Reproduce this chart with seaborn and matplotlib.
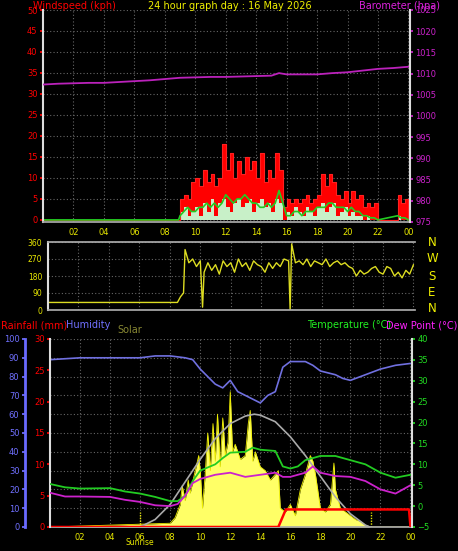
import numpy as np
import pandas as pd
import matplotlib
matplotlib.use("Agg")
import matplotlib.pyplot as plt
import seaborn as sns

sns.set_theme(style="dark")
plt.rcParams['font.family'] = ['DejaVu Sans']

# ---------------- data ----------------
hour_ticks = [2, 4, 6, 8, 10, 12, 14, 16, 18, 20, 22, 24]
hour_labels = ["02", "04", "06", "08", "10", "12", "14", "16", "18", "20", "22", "00"]

gust_t = [0, 8.9, 9.0, 9.25, 9.5, 9.75, 10, 10.25, 10.5, 10.75, 11, 11.25, 11.5, 11.75, 12, 12.25,
          12.5, 12.75, 13, 13.25, 13.5, 13.75, 14, 14.25, 14.5, 14.75, 15, 15.25, 15.5, 15.75,
          16, 16.25, 16.5, 16.75, 17, 17.25, 17.5, 17.75, 18, 18.25, 18.5, 18.75, 19, 19.25,
          19.5, 19.75, 20, 20.25, 20.5, 20.75, 21, 21.25, 21.5, 21.75, 22, 23.3, 23.5, 23.75, 24]
gust_v = [0, 0, 5, 6, 5, 9, 10, 8, 12, 9, 11, 8, 10, 18, 12, 16,
          10, 14, 11, 15, 12, 14, 10, 16, 9, 12, 10, 16, 12, 3,
          5, 4, 5, 4, 5, 6, 4, 5, 6, 11, 8, 11, 9, 6,
          5, 7, 4, 7, 5, 6, 3, 4, 3, 4, 0, 6, 4, 5, 0]
avg_v = [0, 0, 2, 3, 1, 2, 3, 1, 4, 2, 5, 1, 4, 5, 3, 2,
         4, 5, 3, 4, 5, 2, 4, 5, 3, 4, 2, 5, 4, 0,
         2, 1, 3, 2, 1, 3, 2, 1, 3, 4, 2, 3, 4, 1,
         2, 3, 1, 2, 1, 1, 0, 1, 0, 0, 0, 1, 0, 0, 0]
avgline_v = [0, 0, 1, 2, 3, 2, 2, 3, 3, 4, 3, 4, 3, 4, 6, 5,
             4, 5, 5, 6, 5, 4, 4, 3, 3, 4, 3, 4, 7, 4,
             1, 1, 2, 2, 1, 2, 2, 2, 3, 3, 3, 4, 4, 3,
             3, 3, 2, 3, 2, 2, 1, 1, 0.5, 0.5, 0, 1, 0.5, 0.5, 0]

baro_t = [0, 1, 2, 3, 4, 5, 6, 7, 8, 9, 10, 11, 12, 13, 14, 15, 15.5, 16, 17, 18, 19, 20, 21, 22, 23, 24]
baro_v = [1007.4, 1007.6, 1007.7, 1007.8, 1007.8, 1008.0, 1008.2, 1008.4, 1008.7, 1009.0, 1009.1, 1009.2,
          1009.2, 1009.3, 1009.4, 1009.5, 1010.1, 1009.8, 1009.8, 1009.8, 1010.1, 1010.3, 1010.7, 1011.1, 1011.3, 1011.6]

dir_t = [0, 8.5, 8.7, 8.9, 9.0, 9.25, 9.5, 9.75, 10, 10.15, 10.25, 10.5, 10.75, 11, 11.25, 11.5, 11.75,
         12, 12.25, 12.5, 12.75, 13, 13.25, 13.5, 13.75, 14, 14.25, 14.5, 14.75, 15, 15.25, 15.5,
         15.8, 15.9, 16.0, 16.25, 16.5, 16.75, 17, 17.25, 17.5, 17.75, 18, 18.25, 18.5, 18.75, 19,
         19.25, 19.5, 19.75, 20, 20.25, 20.5, 20.75, 21, 21.25, 21.5, 21.75, 22, 22.25, 22.5,
         22.75, 23, 23.25, 23.5, 23.75, 24]
dir_v = [40, 40, 70, 90, 320, 250, 270, 230, 260, 15, 200, 250, 210, 240, 190, 260, 230,
         250, 200, 270, 230, 250, 210, 260, 240, 230, 200, 250, 220, 250, 230, 270,
         260, 0, 350, 250, 260, 240, 270, 230, 260, 250, 240, 270, 230, 250, 260,
         240, 250, 230, 220, 180, 210, 190, 200, 220, 230, 200, 190, 230, 220,
         180, 200, 170, 210, 190, 240]

hum_t = [0, 1, 2, 4, 6, 7, 8, 9, 9.5, 10, 10.5, 11, 11.5, 12, 12.5, 13, 13.5, 14, 14.5, 15, 15.5,
         16, 17, 17.5, 18, 19, 19.5, 20, 21, 22, 23, 24]
hum_v = [89, 89.5, 90, 90, 90, 91, 91, 90, 89, 84, 80, 76, 74, 78, 72, 70, 68, 66, 70, 72, 85,
         88, 88, 86, 83, 81, 79, 78, 81, 84, 86, 87]
temp_t = [0, 1, 2, 4, 5, 6, 7, 8, 8.5, 9, 9.5, 10, 11, 11.5, 12, 13, 13.5, 14, 15, 15.5, 16, 16.5,
          17, 18, 19, 20, 21, 22, 23, 24]
temp_v = [5.3, 4.5, 4.2, 4.3, 3.5, 3.0, 2.2, 1.2, 1.2, 2.5, 6, 8.5, 10, 11.5, 12.8, 13, 14, 13.5,
          13.2, 9.5, 9.0, 9.5, 11, 12, 12, 11, 10, 8, 6.8, 7.5]
dew_t = [0, 1, 2, 4, 5, 6, 7, 8, 8.5, 9, 9.5, 10, 11, 12, 13, 14, 15, 15.5, 16, 17, 17.5, 18,
         19, 20, 21, 22, 23, 24]
dew_v = [3.2, 2.3, 2.3, 2.2, 1.5, 1.0, 0.2, 0.0, 0.5, 2.5, 5.5, 6.5, 7.5, 8.0, 7.0, 7.5, 8.0, 7.0,
         7.0, 8.0, 9.5, 8.0, 7.2, 7.0, 6.0, 4.0, 3.0, 5.0]
rain_t = [0, 15.2, 15.7, 23.9, 24.0]
rain_v = [0, 0, 2.8, 2.8, 0]
solar_t = [0, 8.0, 8.33, 8.67, 8.8, 9, 9.2, 9.33, 9.67, 9.9, 10, 10.15, 10.33, 10.5, 10.67, 10.85, 11,
           11.15, 11.33, 11.5, 11.67, 11.85, 12, 12.15, 12.33, 12.67, 13, 13.2, 13.33, 13.5, 13.67,
           14, 14.33, 14.67, 15, 15.2, 15.33, 15.67, 16, 16.33, 16.67, 17, 17.33, 17.5, 17.67, 18,
           18.33, 18.67, 18.9, 19, 19.33, 19.67, 20, 20.33, 20.67, 21, 21.33, 24]
solar_v = [0, 2, 5, 12, 22, 14, 25, 18, 30, 38, 30, 10, 28, 50, 30, 55, 35, 60, 32, 58, 38, 45,
           72, 40, 44, 36, 38, 55, 62, 35, 40, 32, 30, 25, 28, 30, 10, 8, 12, 6, 20, 28, 38, 35,
           28, 10, 8, 12, 34, 20, 10, 8, 6, 4, 3, 1, 0, 0]
clear_t = [6, 7, 8, 9, 10, 11, 12, 13, 13.6, 14, 15, 16, 17, 18, 19, 20, 21, 21.3]
clear_v = [0, 4, 12, 24, 36, 47, 55, 59, 60, 59.5, 56, 48, 38, 27, 16, 7, 1, 0]

# ---------------- drawing ----------------
W, H = 458, 551
fig = plt.figure(figsize=(W / 100, H / 100), dpi=100, facecolor="black")

def style(ax, xlim=(0, 24.1)):
    ax.set_facecolor("black")
    ax.set_xlim(*xlim)
    ax.grid(True, color="#666666", linestyle=(0, (1, 2)), linewidth=0.8)
    for s in ax.spines.values():
        s.set_visible(False)
    ax.set_xticks(hour_ticks)
    ax.tick_params(axis="x", colors="#aaaaaa", labelcolor="#e8e800", labelsize=6, length=2, pad=2)

def rect(l, t, r, b):
    return [l / W, (H - b) / H, (r - l) / W, (b - t) / H]

# Panel 1
ax1 = fig.add_axes(rect(43, 10, 410, 222))
style(ax1)
ax1.set_xticklabels(hour_labels)
ax1.set_ylim(-0.5, 50)
ax1.set_yticks(range(0, 51, 5))
ax1.tick_params(axis="y", colors="red", labelsize=6, length=2, pad=2)
ax1.spines["left"].set_visible(True); ax1.spines["left"].set_color("#dddddd"); ax1.spines["left"].set_linewidth(1.5)
ax1.spines["bottom"].set_visible(True); ax1.spines["bottom"].set_color("#aaaaaa")
ax1.fill_between(gust_t, gust_v, step="post", color="red", linewidth=0)
sns.lineplot(x=gust_t, y=gust_v, drawstyle="steps-post", color="#ff2020", linewidth=0.8, ax=ax1)
ax1.fill_between(gust_t, avg_v, step="post", color="#c8f0c8", linewidth=0)
sns.lineplot(x=gust_t, y=avgline_v, color="#22cc22", linewidth=1.2, ax=ax1)
ax1.set_xlabel(""); ax1.set_ylabel("")
ax1b = ax1.twinx()
ax1b.set_ylim(974.95, 1025)
ax1b.set_yticks(range(975, 1026, 5))
ax1b.tick_params(axis="y", colors="#cc22cc", labelsize=6, length=2, pad=2)
for s in ax1b.spines.values():
    s.set_visible(False)
ax1b.spines["right"].set_visible(True); ax1b.spines["right"].set_color("#dddddd"); ax1b.spines["right"].set_linewidth(1.5)
sns.lineplot(x=baro_t, y=baro_v, color="#bb22bb", linewidth=1.3, ax=ax1b)
ax1b.set_ylabel("")

# Panel 2
ax2 = fig.add_axes(rect(48, 242, 415, 310))
style(ax2)
ax2.set_xticklabels([])
ax2.set_ylim(0, 360)
ax2.set_yticks([0, 90, 180, 270, 360])
ax2.tick_params(axis="y", colors="#e8e800", labelsize=5.5, length=2, pad=2)
ax2.spines["left"].set_visible(True); ax2.spines["left"].set_color("#dddddd"); ax2.spines["left"].set_linewidth(1.5)
ax2.spines["bottom"].set_visible(True); ax2.spines["bottom"].set_color("#aaaaaa")
ax2.spines["top"].set_visible(True); ax2.spines["top"].set_color("#aaaaaa")
sns.lineplot(x=dir_t, y=dir_v, color="#dddd22", linewidth=1.0, ax=ax2)
ax2.set_xlabel(""); ax2.set_ylabel("")
for lab, yy in zip(["N", "W", "S", "E", "N"], [242, 259, 276, 293, 308]):
    fig.text(432 / W, 1 - yy / H, lab, color="#f0f000", fontsize=8.5, ha="center", va="center")

# Panel 3
ax3 = fig.add_axes(rect(50, 339, 412, 527))
style(ax3)
ax3.set_xticklabels(hour_labels)
ax3.set_ylim(0, 100)
ax3.set_yticks(range(0, 101, 10))
ax3.tick_params(axis="y", colors="#7070ff", labelsize=6, length=2, pad=2)
ax3.spines["left"].set_visible(True); ax3.spines["left"].set_color("#6a6aff")
ax3.spines["left"].set_linewidth(2); ax3.spines["left"].set_position(("outward", 18))
ax3.spines["bottom"].set_visible(True); ax3.spines["bottom"].set_color("#aaaaaa")
ax3.fill_between(solar_t, solar_v, color="#ffff66", linewidth=0)
sns.lineplot(x=solar_t, y=solar_v, color="#eeee00", linewidth=0.6, ax=ax3)
sns.lineplot(x=clear_t, y=clear_v, color="#aaaaaa", linewidth=1.2, ax=ax3)
sns.lineplot(x=hum_t, y=hum_v, color="#7070e0", linewidth=1.2, ax=ax3)
for xv in (6.0, 21.4):
    ax3.axvline(xv, ymax=0.08, color="#e8e800", linestyle=(0, (1, 1)), linewidth=1)
ax3.set_xlabel(""); ax3.set_ylabel("")
ax3.text(6.0, -0.085, "Sunrise", transform=ax3.get_xaxis_transform(), color="#e8e800",
         fontsize=5.5, ha="center", va="center")

ax3r = ax3.twinx()
ax3r.set_ylim(0, 30)
ax3r.set_yticks(range(0, 31, 5))
ax3r.yaxis.set_ticks_position("left"); ax3r.yaxis.set_label_position("left")
ax3r.tick_params(axis="y", colors="red", labelsize=6, length=2, pad=2)
for s in ax3r.spines.values():
    s.set_visible(False)
ax3r.spines["left"].set_visible(True); ax3r.spines["left"].set_color("#dddddd"); ax3r.spines["left"].set_linewidth(1.5)
sns.lineplot(x=rain_t, y=rain_v, color="red", linewidth=1.8, ax=ax3r)
ax3r.set_ylabel("")

ax3t = ax3.twinx()
ax3t.set_ylim(-5, 40)
ax3t.set_yticks(range(-5, 41, 5))
ax3t.tick_params(axis="y", colors="#22dd22", labelsize=6, length=2, pad=2)
for s in ax3t.spines.values():
    s.set_visible(False)
ax3t.spines["right"].set_visible(True); ax3t.spines["right"].set_color("#dddddd"); ax3t.spines["right"].set_linewidth(1.5)
sns.lineplot(x=temp_t, y=temp_v, color="#22cc22", linewidth=1.3, ax=ax3t)
sns.lineplot(x=dew_t, y=dew_v, color="#cc22cc", linewidth=1.3, ax=ax3t)
ax3t.set_ylabel("")

# headers
def ftxt(x, y, s, c, ha="left", size=7):
    fig.text(x / W, 1 - y / H, s, color=c, fontsize=size, ha=ha, va="center")

ftxt(33, 6, "Windspeed (kph)", "red")
ftxt(230, 6, "24 hour graph day : 16 May 2026", "#f0f000", ha="center")
ftxt(440, 6, "Barometer (hpa)", "#dd22dd", ha="right")
ftxt(1, 325, "Rainfall (mm)", "red")
ftxt(66, 325, "Humidity", "#7070ff")
ftxt(117, 330, "Solar", "#888833")
ftxt(307, 325, "Temperature (°C)", "#22ee22")
ftxt(457, 325, "Dew Point (°C)", "#ff22ff", ha="right")

fig.savefig("out.png", dpi=100, facecolor="black")
